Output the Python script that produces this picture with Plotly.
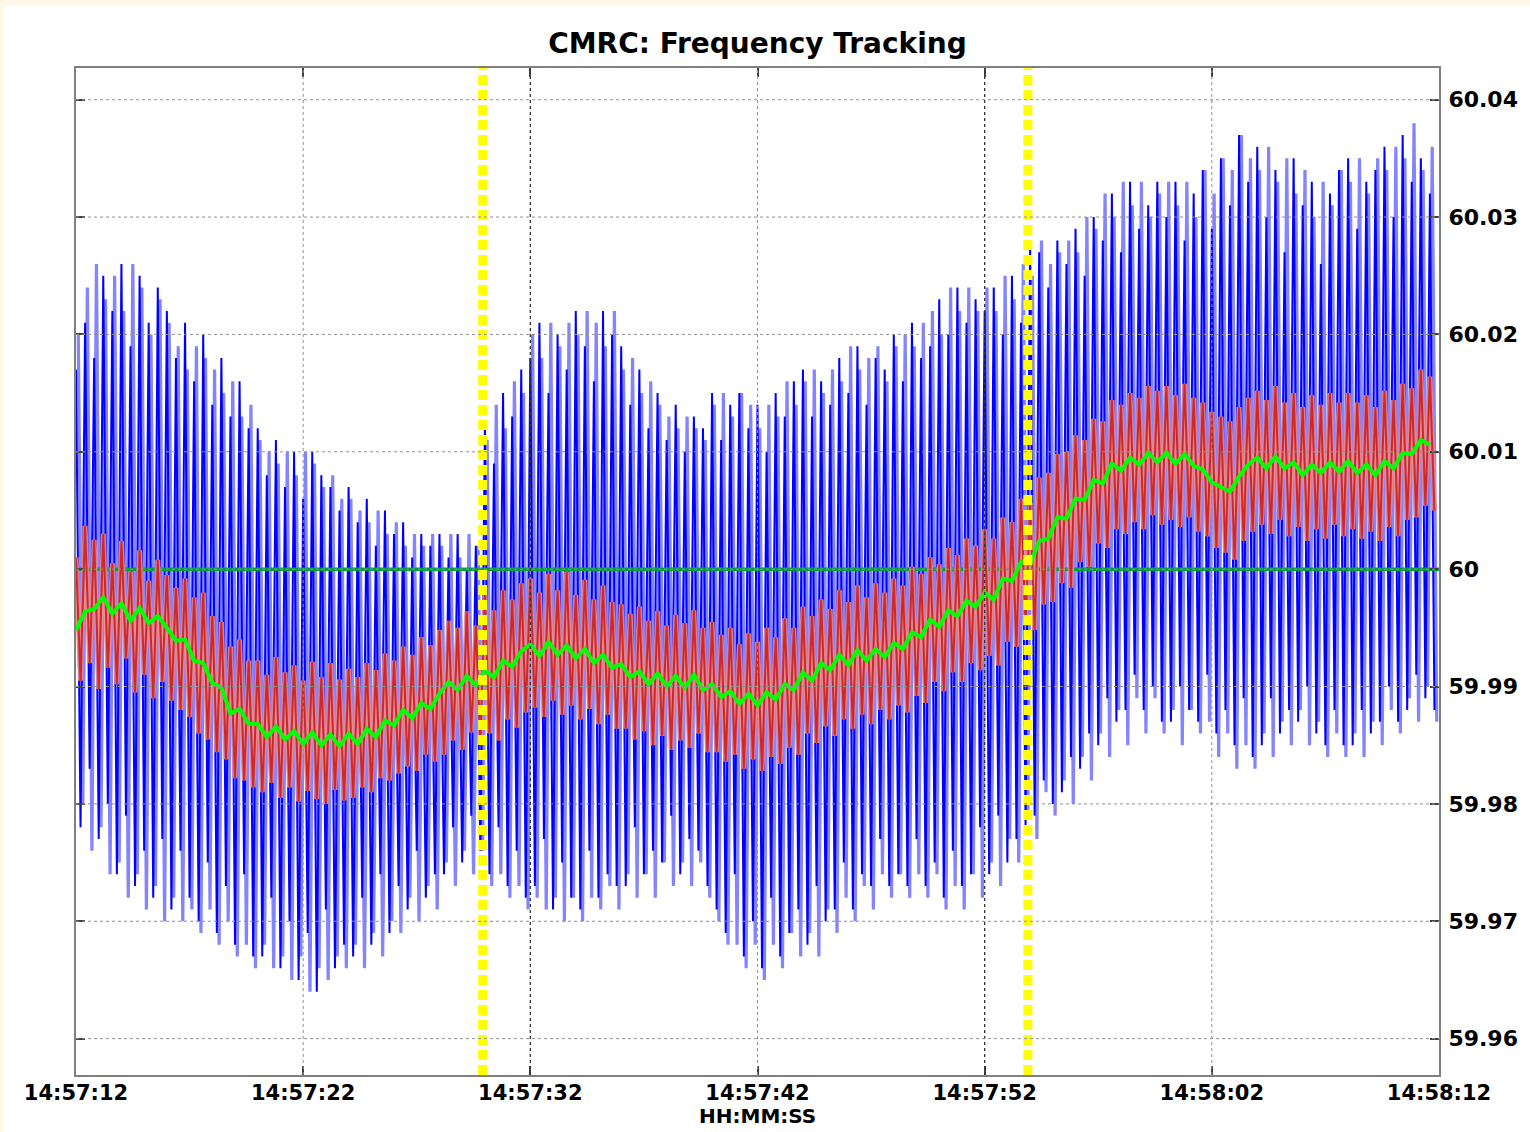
import plotly.graph_objects as go

# ---- axis labels -----------------------------------------------------------
x_tick_sec = [0, 10, 20, 30, 40, 50, 60]          # seconds after 14:57:12
x_tick_text = ["14:57:12", "14:57:22", "14:57:32", "14:57:42",
               "14:57:52", "14:58:02", "14:58:12"]
y_ticks = [59.96, 59.97, 59.98, 59.99, 60.00, 60.01, 60.02, 60.03, 60.04]
y_tick_text = ["59.96", "59.97", "59.98", "59.99", "60",
               "60.01", "60.02", "60.03", "60.04"]

NOMINAL_HZ = 60.0
STEP_S = 0.4                      # seconds between successive peak pairs
event_sec = [17.9, 41.9]          # switching events (yellow markers)

# ---- raw frequency, channel A: swing peaks, mHz deviation from 60 Hz --------
raw_a_hi_mhz = [
    17, 21, 18, 25, 22, 26, 19, 25, 21, 24,
    22, 18, 21, 16, 20, 14, 18, 13, 16, 12,
    12, 8, 11, 7, 10, 6, 10, 8, 7, 5,
    7, 4, 6, 2, 5, 3, 4, 1, 3, 2,
    3, 1, 3, 0, 2, 12, 9, 15, 13, 17,
    18, 21, 15, 20, 17, 22, 19, 16, 22, 20,
    19, 14, 17, 12, 15, 11, 14, 10, 13, 12,
    15, 11, 14, 15, 12, 14, 10, 15, 13, 16,
    17, 13, 16, 14, 18, 15, 19, 14, 18, 17,
    20, 16, 21, 18, 19, 23, 20, 24, 21, 23,
    22, 24, 20, 25, 21, 28, 27, 24, 28, 26,
    29, 25, 30, 28, 32, 27, 33, 29, 31, 33,
    30, 33, 28, 32, 34, 29, 35, 31, 37, 33,
    36, 30, 34, 27, 35, 31, 33, 26, 32, 34,
    35, 29, 33, 34, 36, 30, 37, 33, 35, 32,
]
raw_a_lo_mhz = [
    -22, -17, -23, -20, -26, -21, -27, -24, -28, -23,
    -29, -24, -28, -30, -25, -31, -27, -32, -26, -33,
    -33, -28, -34, -30, -35, -31, -36, -29, -34, -32,
    -33, -28, -32, -26, -31, -27, -29, -24, -28, -26,
    -26, -22, -25, -21, -24, -26, -22, -27, -24, -28,
    -27, -23, -29, -25, -28, -29, -24, -28, -26, -27,
    -27, -22, -26, -24, -25, -21, -26, -23, -24, -27,
    -29, -31, -26, -33, -30, -34, -28, -33, -31, -29,
    -32, -27, -30, -29, -25, -29, -26, -27, -23, -27,
    -26, -27, -23, -27, -25, -28, -24, -27, -26, -22,
    -26, -21, -25, -23, -22, -21, -18, -20, -19, -16,
    -17, -14, -15, -11, -13, -12, -9, -12, -10, -13,
    -13, -10, -12, -13, -9, -14, -12, -15, -11, -16,
    -15, -11, -14, -12, -13, -10, -14, -15, -12, -15,
    -15, -12, -14, -13, -10, -13, -12, -9, -11, -12,
]

# ---- raw frequency, channel B (sampled between channel A peaks), mHz --------
raw_b_hi_mhz = [
    20, 24, 26, 23, 25, 22, 26, 24, 20, 23,
    21, 19, 17, 19, 18, 17, 15, 16, 13, 14,
    11, 10, 9, 10, 8, 10, 9, 7, 8, 6,
    6, 5, 4, 5, 3, 4, 2, 3, 2, 3,
    2, 3, 1, 3, 2, 11, 14, 12, 16, 15,
    20, 18, 21, 19, 21, 20, 22, 21, 19, 22,
    17, 18, 15, 16, 14, 13, 12, 13, 12, 11,
    14, 15, 13, 15, 14, 12, 14, 13, 16, 14,
    16, 17, 15, 17, 16, 19, 17, 18, 19, 16,
    19, 20, 19, 21, 22, 20, 24, 22, 24, 22,
    24, 22, 25, 23, 26, 25, 28, 26, 27, 28,
    27, 30, 29, 32, 30, 33, 31, 33, 30, 32,
    33, 31, 33, 30, 34, 32, 35, 34, 37, 35,
    34, 36, 33, 35, 32, 34, 30, 33, 31, 34,
    33, 35, 32, 35, 34, 36, 35, 38, 34, 36,
]
raw_b_lo_mhz = [
    -20, -24, -22, -26, -25, -28, -26, -29, -27, -30,
    -28, -30, -29, -31, -29, -32, -30, -33, -32, -34,
    -32, -34, -33, -35, -33, -36, -34, -35, -33, -34,
    -32, -34, -31, -33, -30, -31, -28, -30, -27, -29,
    -25, -27, -24, -26, -24, -27, -26, -28, -27, -29,
    -28, -29, -28, -30, -28, -30, -28, -29, -27, -29,
    -26, -28, -26, -28, -25, -27, -25, -27, -25, -28,
    -30, -32, -32, -34, -32, -35, -32, -34, -31, -33,
    -31, -33, -29, -31, -28, -30, -27, -29, -26, -28,
    -26, -28, -26, -28, -26, -29, -27, -29, -26, -28,
    -25, -27, -23, -25, -21, -23, -19, -21, -18, -20,
    -16, -18, -14, -16, -12, -15, -11, -14, -11, -14,
    -12, -15, -12, -14, -13, -16, -14, -17, -15, -17,
    -14, -16, -13, -15, -12, -15, -13, -16, -14, -16,
    -14, -16, -13, -15, -12, -14, -11, -13, -10, -13,
]

# ---- filtered frequency band: swing peaks, mHz ------------------------------
filt_hi_mhz = [
    1.0, 3.7, 2.5, 3.0, 0.5, 2.4, -0.2, 1.6, -1.0, 0.8,
    -0.5, -1.6, -0.8, -2.4, -2.0, -4.0, -4.5, -6.6, -6.0, -7.8,
    -7.8, -9.0, -7.5, -8.8, -8.2, -9.5, -7.9, -9.2, -8.0, -9.4,
    -8.5, -9.2, -8.0, -8.6, -7.2, -7.8, -6.6, -7.3, -5.8, -6.5,
    -5.2, -4.4, -5.0, -3.6, -4.8, -2.2, -3.5, -1.8, -2.6, -1.2,
    -0.8, -2.0, -0.4, -1.8, -0.2, -2.2, -0.9, -2.6, -1.4, -2.8,
    -3.0, -3.8, -3.2, -4.4, -3.6, -4.8, -3.9, -4.6, -3.5, -5.0,
    -4.5, -5.6, -5.0, -6.4, -5.5, -6.2, -5.0, -5.8, -4.2, -5.0,
    -3.2, -4.0, -2.6, -3.4, -1.8, -2.8, -1.4, -2.4, -1.2, -2.0,
    -0.8, -1.4, 0.2, -0.4, 1.0, 0.4, 1.8, 1.2, 2.6, 2.0,
    3.4, 2.6, 4.4, 4.0, 6.0, 5.6, 7.8, 8.2, 9.8, 10.0,
    11.4, 11.0, 12.8, 12.6, 14.4, 14.0, 15.0, 14.6, 15.6, 15.2,
    15.6, 14.8, 15.8, 14.6, 14.2, 13.4, 13.0, 12.6, 13.8, 14.6,
    15.2, 14.4, 15.6, 14.2, 15.0, 13.8, 14.8, 14.0, 15.0, 14.2,
    15.0, 14.2, 14.8, 13.8, 15.2, 14.4, 15.8, 15.4, 17.0, 16.4,
]
filt_lo_mhz = [
    -9.5, -8.0, -10.2, -8.4, -9.8, -7.6, -10.5, -9.0, -11.0, -9.6,
    -11.2, -12.0, -12.6, -14.0, -14.5, -15.6, -16.2, -17.8, -18.0, -18.6,
    -19.0, -18.2, -19.5, -18.6, -19.8, -18.9, -19.6, -20.0, -18.8, -19.7,
    -19.5, -18.6, -19.0, -17.8, -18.0, -17.4, -16.8, -17.2, -15.8, -16.4,
    -15.8, -14.6, -15.4, -13.9, -14.8, -14.0, -14.6, -12.8, -13.5, -12.2,
    -11.8, -12.6, -11.2, -12.4, -11.6, -12.8, -11.9, -13.2, -12.4, -13.6,
    -13.6, -14.5, -13.8, -15.0, -14.2, -15.4, -14.6, -15.2, -14.0, -15.6,
    -15.6, -16.4, -15.8, -17.0, -16.2, -17.2, -16.0, -16.6, -15.2, -15.8,
    -14.0, -14.8, -13.4, -14.2, -12.8, -13.6, -12.4, -13.2, -12.0, -12.8,
    -11.6, -12.2, -10.8, -11.4, -9.6, -10.4, -8.8, -9.6, -8.0, -8.6,
    -7.4, -8.2, -6.2, -6.6, -4.8, -5.2, -3.0, -2.8, -1.2, -1.6,
    0.6, 0.2, 2.2, 1.8, 3.4, 3.0, 4.0, 3.4, 4.6, 3.8,
    4.2, 3.6, 4.4, 3.2, 2.8, 1.8, 1.4, 0.8, 2.4, 3.2,
    3.8, 3.0, 4.2, 2.8, 3.6, 2.4, 3.4, 2.6, 3.8, 2.8,
    3.4, 2.6, 3.2, 2.4, 3.6, 2.8, 4.2, 4.4, 5.4, 5.0,
]

# ---- tracked frequency estimate, mHz ----------------------------------------
track_mhz = [
    -5.2, -3.6, -3.4, -2.4, -3.8, -2.9, -4.4, -3.3, -4.6, -4.0,
    -5.0, -6.1, -6.0, -7.8, -8.0, -9.7, -10.1, -12.3, -11.9, -13.2,
    -13.2, -14.3, -13.4, -14.5, -13.8, -14.9, -13.9, -15.0, -14.1, -15.1,
    -14.0, -14.9, -13.6, -14.3, -12.9, -13.3, -12.0, -12.7, -11.4, -11.9,
    -10.6, -9.6, -10.3, -9.1, -9.9, -8.6, -9.2, -7.8, -8.3, -7.0,
    -6.4, -7.4, -6.2, -7.3, -6.5, -7.6, -6.8, -8.0, -7.3, -8.4,
    -8.1, -9.2, -8.7, -9.8, -8.9, -10.0, -9.1, -10.1, -9.0, -10.3,
    -9.8, -10.9, -10.4, -11.5, -10.6, -11.6, -10.5, -11.1, -9.8, -10.3,
    -8.8, -9.5, -8.0, -8.6, -7.3, -8.2, -6.9, -7.8, -6.8, -7.5,
    -6.3, -6.8, -5.4, -5.8, -4.3, -4.9, -3.5, -4.0, -2.7, -3.2,
    -2.0, -2.6, -0.8, -1.0, 0.6, 0.4, 2.4, 2.6, 4.4, 4.3,
    6.0, 5.9, 7.6, 7.3, 9.0, 8.4, 9.5, 8.9, 9.9, 9.1,
    9.9, 9.0, 9.8, 8.8, 8.5, 7.4, 7.0, 6.6, 7.9, 8.9,
    9.5, 8.6, 9.6, 8.6, 9.1, 8.0, 8.9, 8.2, 9.1, 8.3,
    9.2, 8.2, 8.9, 8.0, 9.2, 8.6, 9.9, 9.8, 11.0, 10.6,
]


def to_hz(mhz):
    return NOMINAL_HZ + mhz / 1000.0


def swing(hi, lo, offset=0.0):
    """Interleave peak pairs into one zig-zag trace."""
    xs, ys = [], []
    for i, (h, l) in enumerate(zip(hi, lo)):
        t = i * STEP_S + offset
        xs += [t, t + STEP_S / 2]
        ys += [to_hz(h), to_hz(l)]
    return xs, ys


raw_a_x, raw_a_y = swing(raw_a_hi_mhz, raw_a_lo_mhz)
raw_b_x, raw_b_y = swing(raw_b_hi_mhz, raw_b_lo_mhz, offset=STEP_S / 4)
filt_x, filt_y = swing(filt_hi_mhz, filt_lo_mhz)
track_x = [i * STEP_S for i in range(len(track_mhz))]
track_y = [to_hz(v) for v in track_mhz]

X_MIN, X_MAX = 0, 60
Y_MIN, Y_MAX = 59.9569, 60.0427

fig = go.Figure()

# raw frequency: channel B (light) beneath channel A (dark)
fig.add_trace(go.Scatter(x=raw_b_x, y=raw_b_y, mode="lines",
                         line=dict(color="#8484ff", width=3.2), hoverinfo="skip"))
fig.add_trace(go.Scatter(x=raw_a_x, y=raw_a_y, mode="lines",
                         line=dict(color="#0000ff", width=2), hoverinfo="skip"))

# nominal 60 Hz reference
fig.add_trace(go.Scatter(x=[X_MIN, X_MAX], y=[NOMINAL_HZ, NOMINAL_HZ], mode="lines",
                         line=dict(color="#00a040", width=3.5), hoverinfo="skip"))

# filtered band
fig.add_trace(go.Scatter(x=filt_x, y=filt_y, mode="lines", opacity=0.9,
                         line=dict(color="#f08a8a", width=5), hoverinfo="skip"))
fig.add_trace(go.Scatter(x=filt_x, y=filt_y, mode="lines",
                         line=dict(color="#cc2a2a", width=2), hoverinfo="skip"))

# tracked estimate
fig.add_trace(go.Scatter(x=track_x, y=track_y, mode="lines",
                         line=dict(color="#00ff00", width=4), hoverinfo="skip"))

# event markers
for ev in event_sec:
    fig.add_trace(go.Scatter(x=[ev, ev], y=[Y_MIN, Y_MAX], mode="lines",
                             line=dict(color="#ffff00", width=9, dash="10px,5px"),
                             hoverinfo="skip"))

shapes = []
# cream page border
shapes.append(dict(type="rect", xref="paper", yref="paper", layer="below",
                   x0=(4 - 76) / 1363, x1=(1535 - 76) / 1363,
                   y0=(1075 - 1140) / 1007, y1=(1075 - 6) / 1007,
                   fillcolor="white", line=dict(width=0)))
# dotted grid drawn above the data
for xv in x_tick_sec[1:-1]:
    dark = xv in (20, 40)
    shapes.append(dict(type="line", xref="x", yref="paper", layer="above",
                       x0=xv, x1=xv, y0=0, y1=1,
                       line=dict(color="#333333" if dark else "#909090",
                                 width=1.3 if dark else 1, dash="dot")))
for yv in y_ticks:
    shapes.append(dict(type="line", xref="paper", yref="y", layer="above",
                       x0=0, x1=1, y0=yv, y1=yv,
                       line=dict(color="#909090", width=1, dash="dot")))

FONT = "DejaVu Sans"

fig.update_layout(
    width=1530, height=1132,
    margin=dict(l=76, r=91, t=68, b=57),
    paper_bgcolor="#fff8e6",
    plot_bgcolor="white",
    showlegend=False,
    shapes=shapes,
    title=dict(text="<b>CMRC: Frequency Tracking</b>",
               font=dict(family=FONT, size=28, color="black"),
               x=0.5, xref="paper", xanchor="center",
               y=1 - 43 / 1132, yref="container", yanchor="middle"),
    annotations=[dict(text="<b>HH:MM:SS</b>", xref="paper", yref="paper",
                      x=0.5, y=(1075 - 1116) / 1007, xanchor="center",
                      yanchor="middle", showarrow=False,
                      font=dict(family=FONT, size=20, color="black"))],
)

fig.update_xaxes(range=[X_MIN, X_MAX], tickvals=x_tick_sec, ticktext=x_tick_text,
                 showgrid=False, zeroline=False, showline=True, mirror="ticks",
                 linecolor="#808080", linewidth=2, ticks="inside", ticklen=9,
                 tickcolor="#404040", tickwidth=1.5, ticklabelstandoff=-2,
                 tickfont=dict(family=FONT, size=21, color="black", weight="bold"),
                 layer="above traces")
fig.update_yaxes(range=[Y_MIN, Y_MAX], tickvals=y_ticks, ticktext=y_tick_text,
                 side="right", showgrid=False, zeroline=False, showline=True,
                 mirror="ticks", linecolor="#808080", linewidth=2,
                 ticks="inside", ticklen=9, tickcolor="#404040", tickwidth=1.5,
                 ticklabelstandoff=3,
                 tickfont=dict(family=FONT, size=22, color="black", weight="bold"),
                 layer="above traces")

fig.write_html("out.html")
